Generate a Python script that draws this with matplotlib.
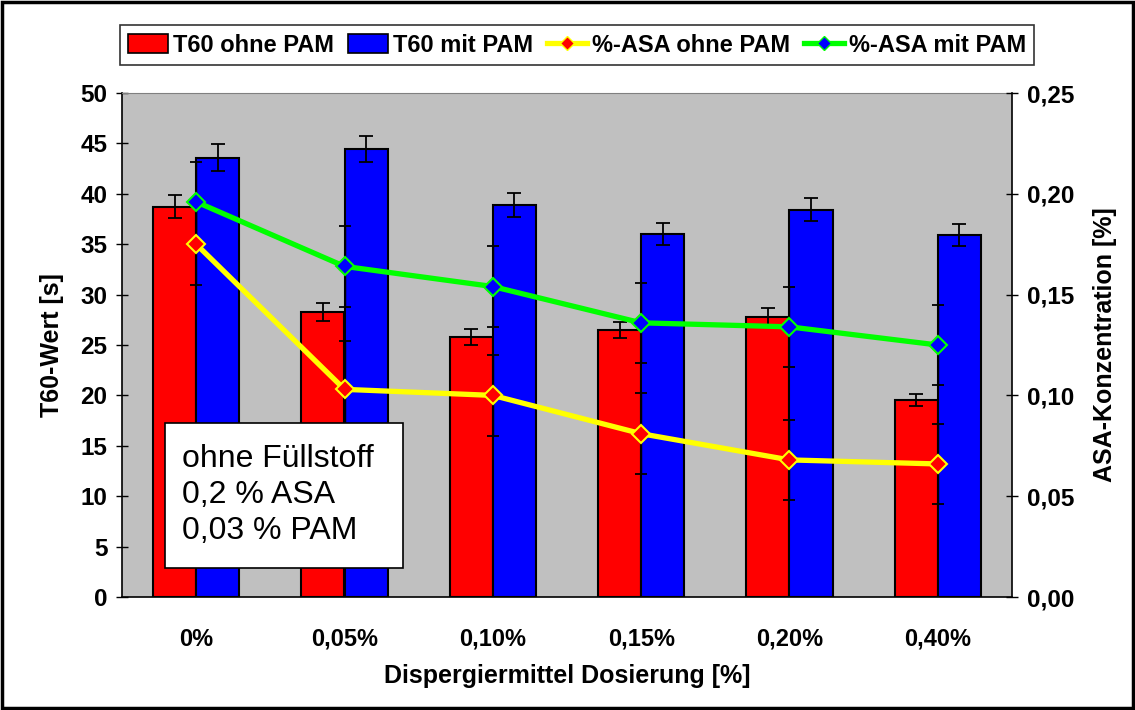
import matplotlib
matplotlib.use("Agg")
import matplotlib.pyplot as plt
from matplotlib.patches import Rectangle, Patch
from matplotlib.lines import Line2D
from matplotlib.ticker import FuncFormatter
import numpy as np

categories = ["0%", "0,05%", "0,10%", "0,15%", "0,20%", "0,40%"]
t60_ohne = [38.7, 28.3, 25.8, 26.5, 27.8, 19.5]
t60_ohne_err = [1.15, 0.87, 0.77, 0.79, 0.9, 0.6]
t60_mit = [43.6, 44.4, 38.9, 36.0, 38.4, 35.9]
t60_mit_err = [1.3, 1.29, 1.17, 1.1, 1.14, 1.07]
asa_ohne = [0.175, 0.103, 0.100, 0.081, 0.068, 0.066]
asa_ohne_err = [0.02, 0.024, 0.02, 0.02, 0.02, 0.02]
asa_mit = [0.196, 0.164, 0.154, 0.136, 0.134, 0.125]
asa_mit_err = [0.02, 0.02, 0.02, 0.02, 0.02, 0.02]

plt.rcParams['font.family'] = ['Liberation Sans', 'DejaVu Sans']

W, H = 1135, 710
fig = plt.figure(figsize=(W / 100, H / 100), dpi=100)
ax = fig.add_axes([122 / W, 1 - 597 / H, (1012 - 122) / W, (597 - 93) / H])
ax.set_facecolor('#C0C0C0')

x = np.arange(len(categories))
bw = 0.29
ekw = dict(ecolor='black', capsize=5, elinewidth=1.3, capthick=1.3)
ax.bar(x - bw / 2, t60_ohne, bw, yerr=t60_ohne_err, color='#FF0000',
       edgecolor='black', linewidth=1.5, error_kw=ekw)
ax.bar(x + bw / 2, t60_mit, bw, yerr=t60_mit_err, color='#0000FF',
       edgecolor='black', linewidth=1.5, error_kw=ekw)
ax.set_xlim(-0.5, len(categories) - 0.5)
ax.set_ylim(0, 50)
ax.set_yticks(np.arange(0, 51, 5))
ax.set_xticks(x)
ax.set_xticklabels(categories, fontsize=17, fontweight='bold')
ax.tick_params(axis='x', length=0, pad=22)
ax.tick_params(axis='y', direction='inout', length=9, width=1, labelsize=17.5, pad=6)
for lab in ax.get_yticklabels():
    lab.set_fontweight('bold')
ax.set_xlabel("Dispergiermittel Dosierung [%]", fontsize=18, fontweight='bold', labelpad=10)
ax.set_ylabel("T60-Wert [s]", fontsize=18, fontweight='bold', labelpad=12)
for s in ['left', 'bottom']:
    ax.spines[s].set_color('black')
    ax.spines[s].set_linewidth(1.2)
ax.spines['top'].set_color('#808080')
ax.spines['right'].set_visible(False)

ax2 = ax.twinx()
ax2.set_ylim(0, 0.25)
ax2.set_yticks(np.arange(0, 0.2501, 0.05))
ax2.yaxis.set_major_formatter(FuncFormatter(lambda v, p: f"{v:.2f}".replace('.', ',')))
ax2.tick_params(axis='y', direction='inout', length=9, width=1, labelsize=17.5, pad=6)
for lab in ax2.get_yticklabels():
    lab.set_fontweight('bold')
ax2.set_ylabel("ASA-Konzentration [%]", fontsize=18, fontweight='bold', labelpad=14)
ax2.spines['right'].set_color('black')
ax2.spines['right'].set_linewidth(1.2)
ax2.spines['top'].set_visible(False)
ax2.spines['left'].set_visible(False)
ax2.spines['bottom'].set_visible(False)

ax2.errorbar(x, asa_ohne, yerr=asa_ohne_err, fmt='none', ecolor='black',
             elinewidth=1, capsize=4, capthick=1.3, zorder=2)
ax2.errorbar(x, asa_mit, yerr=asa_mit_err, fmt='none', ecolor='black',
             elinewidth=1, capsize=4, capthick=1.3, zorder=2)
ax2.plot(x, asa_ohne, color='#FFFF00', lw=3.8, marker='D', ms=9,
         markerfacecolor='#FF0000', markeredgecolor='#FFFF00', markeredgewidth=1.5, zorder=3)
ax2.plot(x, asa_mit, color='#00FF00', lw=3.8, marker='D', ms=9,
         markerfacecolor='#0000FF', markeredgecolor='#00FF00', markeredgewidth=1.5, zorder=3)

handles = [
    Patch(facecolor='#FF0000', edgecolor='black', linewidth=1.2),
    Patch(facecolor='#0000FF', edgecolor='black', linewidth=1.2),
    Line2D([], [], color='#FFFF00', lw=3.8, marker='D', ms=7,
           markerfacecolor='#FF0000', markeredgecolor='#FFFF00'),
    Line2D([], [], color='#00FF00', lw=3.8, marker='D', ms=7,
           markerfacecolor='#0000FF', markeredgecolor='#00FF00'),
]
labels = ["T60 ohne PAM", "T60 mit PAM", "%-ASA ohne PAM", "%-ASA mit PAM"]
leg = fig.legend(handles, labels, loc='center', bbox_to_anchor=(577 / W, 1 - 45 / H),
                 ncol=4, frameon=True, fancybox=False, edgecolor='black',
                 prop={'family': ['Liberation Sans'], 'weight': 'bold', 'size': 17},
                 handlelength=1.7, handleheight=0.9, handletextpad=0.2, columnspacing=0.6,
                 borderpad=0.35, borderaxespad=0, shadow=False)
leg.get_frame().set_linewidth(1.2)

# info box
fig.add_artist(Rectangle((165 / W, 1 - 568 / H), 238 / W, 145 / H, transform=fig.transFigure,
                         facecolor='white', edgecolor='black', linewidth=1.2, zorder=5))
fig.text(182 / W, 1 - 495 / H, "ohne Füllstoff\n0,2 % ASA\n0,03 % PAM", fontsize=23,
         ha='left', va='center', linespacing=1.26, zorder=6)

# outer frame
fig.add_artist(Rectangle((0.002, 0.003), 0.996, 0.994, transform=fig.transFigure,
                         fill=False, edgecolor='black', linewidth=2.5, zorder=10))

fig.savefig("out.png", dpi=100)
